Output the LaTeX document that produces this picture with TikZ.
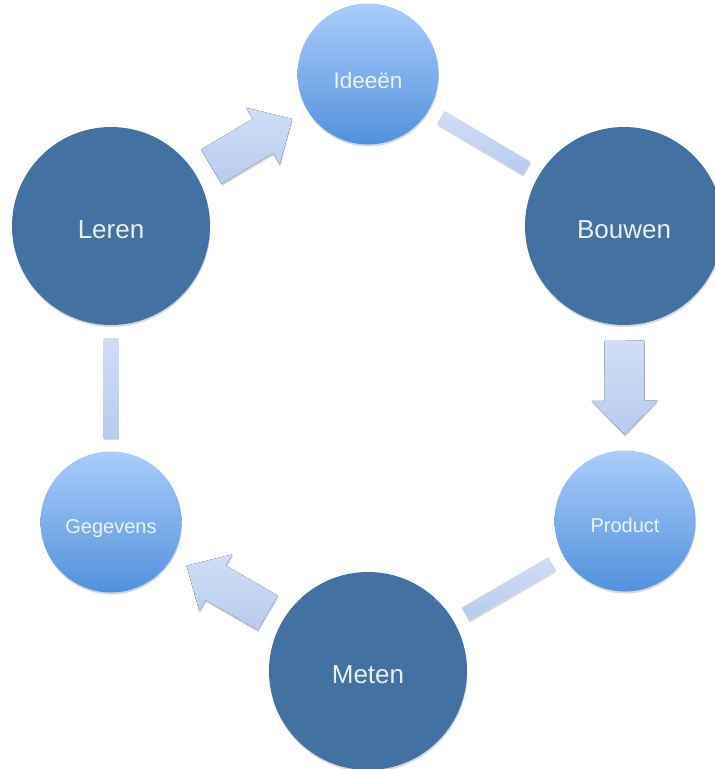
\documentclass[tikz,border=0pt]{standalone}
\usepackage{fontspec}
\setmainfont{Liberation Sans}
\usetikzlibrary{calc,shadows}
\definecolor{darkcirc}{RGB}{67,114,162}
\definecolor{bigtxt}{RGB}{232,238,245}
\definecolor{smalltop}{RGB}{170,205,250}
\definecolor{smallbot}{RGB}{82,145,220}
\definecolor{arrtop}{RGB}{208,222,246}
\definecolor{arrbot}{RGB}{184,203,238}
\newcommand\drawblockarrow[1]{%
  \coordinate (#1-tt) at ($(#1.north west)!13pt!(#1.south west)$);
  \coordinate (#1-tb) at ($(#1.south west)!13pt!(#1.north west)$);
  \coordinate (#1-rt) at ($(#1.north east)!13pt!(#1.south east)$);
  \coordinate (#1-rb) at ($(#1.south east)!13pt!(#1.north east)$);
  \coordinate (#1-nt) at ($(#1-tt)!60pt!(#1-rt)$);
  \coordinate (#1-nb) at ($(#1-tb)!60pt!(#1-rb)$);
  \coordinate (#1-ht) at ($(#1.north west)!60pt!(#1.north east)$);
  \coordinate (#1-hb) at ($(#1.south west)!60pt!(#1.south east)$);
  \fill[arrowfill] (#1-tt) -- (#1-nt) -- (#1-ht) -- (#1.east) -- (#1-hb) -- (#1-nb) -- (#1-tb) -- cycle;
}
\begin{document}
\begin{tikzpicture}[x=1pt,y=-1pt,
  softshadow/.style={drop shadow={shadow xshift=0.5pt, shadow yshift=-2pt, opacity=0.15, fill=black}},
  bigcirc/.style={circle, minimum size=198pt, inner sep=0pt, outer sep=0pt,
    fill=darkcirc, text=bigtxt, font=\fontsize{26}{30}\selectfont,
    text height=25.6pt, text depth=0pt, softshadow},
  smallcirc/.style={circle, minimum size=141pt, inner sep=0pt, outer sep=0pt,
    top color=smalltop, bottom color=smallbot, text=white, text opacity=0.85,
    font=\fontsize{20}{24}\selectfont, text height=22.3pt, text depth=0pt, softshadow},
  arrowbox/.style={midway, sloped, allow upside down, rectangle,
    minimum width=94pt, minimum height=66pt, inner sep=0pt, outer sep=0pt},
  barnode/.style={midway, sloped, allow upside down, rectangle,
    minimum width=100pt, minimum height=15pt, inner sep=0pt, outer sep=0pt,
    top color=arrtop, bottom color=arrbot, softshadow},
  arrowfill/.style={top color=arrtop, bottom color=arrbot, softshadow}
]
\useasboundingbox (0,0) rectangle (715,769);
\clip (0,0) rectangle (715,769);

\node[smallcirc, font=\fontsize{22.5}{26}\selectfont, text height=28pt] (ideeen) at (368,74) {Ideeën};
\node[bigcirc] (bouwen) at (624,226) {Bouwen};
\node[smallcirc] (product) at (625,521) {Product};
\node[bigcirc] (meten) at (368,671) {Meten};
\node[smallcirc] (gegevens) at (111,522) {Gegevens};
\node[bigcirc] (leren) at (111,226) {Leren};

\path (leren) -- (ideeen) node[arrowbox] (a1) {};
\path (bouwen) -- (product) node[arrowbox] (a2) {};
\path (meten) -- (gegevens) node[arrowbox] (a3) {};
\drawblockarrow{a1}
\drawblockarrow{a2}
\drawblockarrow{a3}

\path (ideeen) -- (bouwen) node[barnode] (b1) {};
\path (product) -- (meten) node[barnode] (b2) {};
\path (gegevens) -- (leren) node[barnode] (b3) {};
\end{tikzpicture}
\end{document}
